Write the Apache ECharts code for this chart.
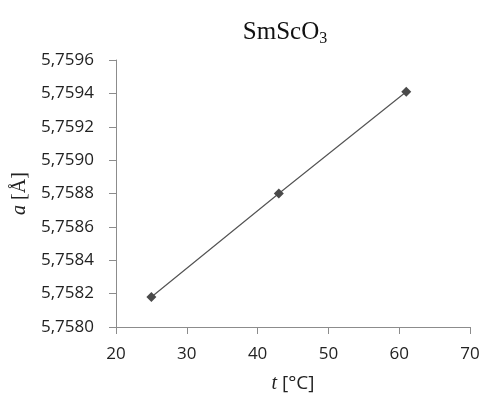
<!DOCTYPE html>
<html>
<head>
<meta charset="utf-8">
<script src="https://cdn.jsdelivr.net/npm/echarts@6/dist/echarts.min.js"></script>
<style>
html, body { margin: 0; padding: 0; background: #fff; }
#chart { width: 484px; height: 401px; }
</style>
</head>
<body>
<div id="chart"></div>
<script>
// data
var tempC = [25, 43, 61];
var latticeA = [5.75818, 5.75880, 5.75941];
var xTicks = [20, 30, 40, 50, 60, 70];
var yTicks = [5.7580, 5.7582, 5.7584, 5.7586, 5.7588, 5.7590, 5.7592, 5.7594, 5.7596];

var points = tempC.map(function (t, i) { return [t, latticeA[i]]; });
var axisGray = '#8c8c8c';
var labelFont = '"Open Sans", "DejaVu Sans", sans-serif';
var serif = '"Liberation Serif", "DejaVu Serif", serif';

var chart = echarts.init(document.getElementById('chart'));
chart.setOption({
    animation: false,
    backgroundColor: '#fff',
    title: {
        text: '{a|SmScO}{b|3}',
        left: 280,
        textAlign: 'center',
        top: 12,
        textStyle: {
            rich: {
                a: { fontFamily: serif, fontSize: 25, fontWeight: 'normal', color: '#111' },
                b: { fontFamily: serif, fontSize: 16, fontWeight: 'normal', color: '#111', padding: [14, 0, 0, 0] }
            }
        }
    },
    grid: { left: 116, right: 14, top: 60, bottom: 74 },
    xAxis: {
        type: 'value',
        min: xTicks[0],
        max: xTicks[xTicks.length - 1],
        interval: 10,
        name: '{i|t} [°C]',
        nameLocation: 'middle',
        nameGap: 47,
        nameTextStyle: {
            fontFamily: labelFont, fontSize: 19, color: '#222',
            rich: { i: { fontFamily: serif, fontStyle: 'italic', fontSize: 20, color: '#222' } }
        },
        axisLine: { lineStyle: { color: axisGray, width: 1 } },
        axisTick: { show: true, inside: false, length: 7, lineStyle: { color: axisGray } },
        splitLine: { show: false },
        axisLabel: { fontFamily: labelFont, fontSize: 17, color: '#222', margin: 19 }
    },
    yAxis: {
        type: 'value',
        min: yTicks[0],
        max: yTicks[yTicks.length - 1],
        interval: 0.0002,
        name: '{i|a} [Å]',
        nameLocation: 'middle',
        nameRotate: 90,
        nameGap: 86,
        nameTextStyle: {
            fontFamily: serif, fontSize: 20, color: '#222',
            rich: { i: { fontFamily: serif, fontStyle: 'italic', fontSize: 20, color: '#222' } }
        },
        axisLine: { show: true, lineStyle: { color: axisGray, width: 1 } },
        axisTick: { show: true, inside: false, length: 7, lineStyle: { color: axisGray } },
        splitLine: { show: false },
        axisLabel: {
            fontFamily: labelFont, fontSize: 17, color: '#222', margin: 22,
            formatter: function (v) { return v.toFixed(4).replace('.', ','); }
        }
    },
    series: [{
        type: 'line',
        data: points,
        symbol: 'diamond',
        symbolSize: 10,
        itemStyle: { color: '#4a4a4a' },
        lineStyle: { color: '#555', width: 1.2 }
    }]
});
</script>
</body>
</html>
